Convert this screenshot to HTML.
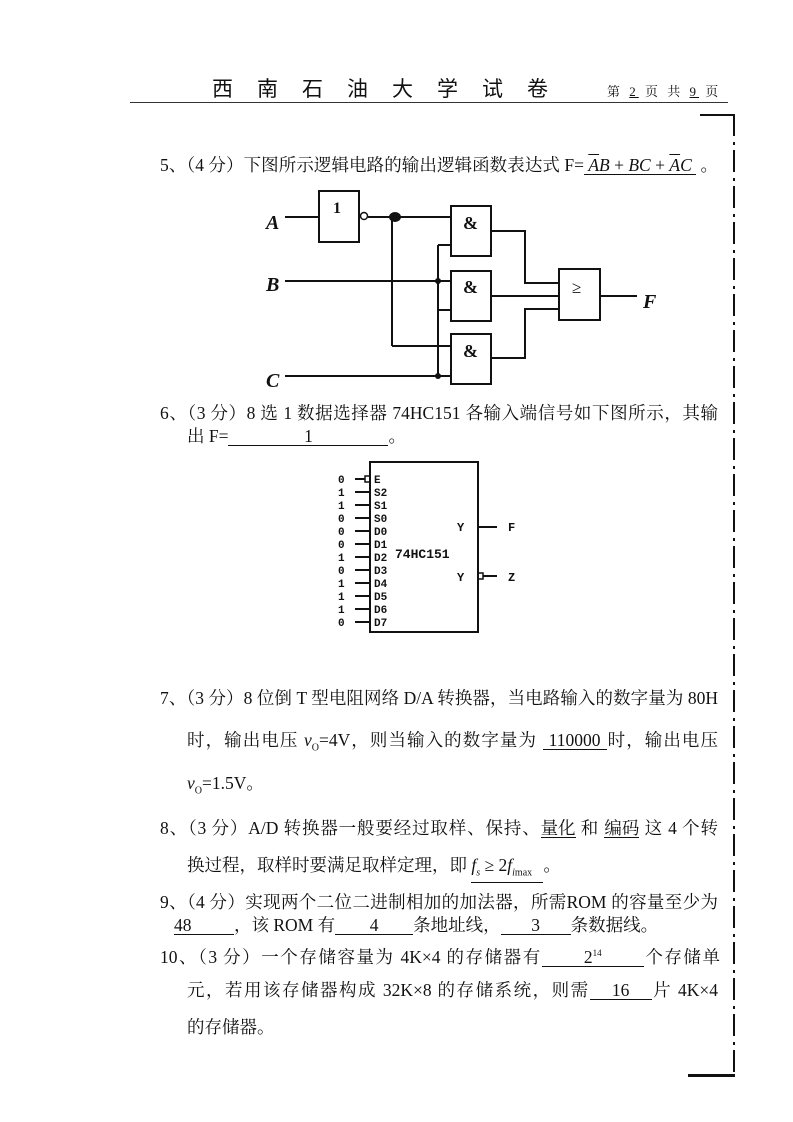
<!DOCTYPE html>
<html><head><meta charset="utf-8"><style>
body{margin:0;width:793px;height:1122px;background:#fff;position:relative;overflow:hidden;font-family:"Liberation Serif","Noto Serif CJK SC","Noto Sans CJK SC",serif;color:#111}
.t{position:absolute;font-size:17.5px;line-height:20px;white-space:nowrap}
.j{text-align:justify;text-align-last:justify;white-space:normal}
.u{display:inline-block;border-bottom:1px solid #111;text-align:center;text-align-last:center;line-height:17px}
.ul{text-align:left;text-align-last:left}
i{font-style:italic}
.ov{text-decoration:overline}
</style></head><body>
<div class="t" style="left:212px;top:78px;font-size:21px;letter-spacing:24px;font-family:'Noto Sans CJK SC',sans-serif">西南石油大学试卷</div>
<div class="t" style="left:607px;top:82px;font-size:13px;letter-spacing:3px">第 <u>2</u> 页 共 <u>9</u> 页</div>
<div style="position:absolute;left:130px;top:102px;width:598px;height:1px;background:#333"></div>
<div style="position:absolute;left:700px;top:114px;width:33px;height:2px;background:#111"></div>
<div style="position:absolute;left:733px;top:114px;width:2px;height:962px;background:repeating-linear-gradient(#111 0 22px,#fff 22px 28px,#111 28px 31px,#fff 31px 36px)"></div>
<div style="position:absolute;left:688px;top:1074px;width:47px;height:3px;background:#111"></div>

<div class="t j" style="left:160px;top:155px;width:558px">5、（4 分）下图所示逻辑电路的输出逻辑函数表达式 F=<span class="u" style="width:112px"><i><span class="ov">A</span>B</i> + <i>BC</i> + <i><span class="ov">A</span>C</i></span> 。</div>

<svg style="position:absolute;left:0;top:0" width="793" height="1122">
<g stroke="#111" stroke-width="2" fill="none">
<rect x="319" y="191" width="40" height="51"/>
<circle cx="364" cy="216" r="3.5" stroke-width="1.5"/>
<line x1="285" y1="217" x2="319" y2="217"/>
<line x1="368" y1="217" x2="451" y2="217"/>
<rect x="451" y="206" width="40" height="50"/>
<rect x="451" y="271" width="40" height="50"/>
<rect x="451" y="334" width="40" height="50"/>
<rect x="559" y="269" width="41" height="51"/>
<line x1="438" y1="245" x2="451" y2="245"/>
<line x1="438" y1="245" x2="438" y2="376"/>
<line x1="285" y1="281" x2="451" y2="281"/>
<line x1="438" y1="310" x2="451" y2="310"/>
<line x1="392" y1="217" x2="392" y2="346"/>
<line x1="392" y1="346" x2="451" y2="346"/>
<line x1="285" y1="376" x2="451" y2="376"/>
<polyline points="491,231 525,231 525,283 559,283"/>
<line x1="491" y1="296" x2="559" y2="296"/>
<polyline points="491,358 525,358 525,309 559,309"/>
<line x1="600" y1="296" x2="637" y2="296"/>
</g>
<ellipse cx="395" cy="217" rx="6" ry="5" fill="#111"/>
<circle cx="438" cy="281" r="3" fill="#111"/>
<circle cx="438" cy="376" r="3" fill="#111"/>
<g font-family="Liberation Serif" font-weight="bold" font-size="18" fill="#111">
<text x="333" y="213" font-size="16">1</text>
<text x="463" y="229">&amp;</text><text x="463" y="293">&amp;</text><text x="463" y="357">&amp;</text>
<text x="572" y="293" font-weight="normal" font-size="17">≥</text>
<text x="266" y="229" font-style="italic" font-size="20">A</text>
<text x="266" y="291" font-style="italic" font-size="20">B</text>
<text x="266" y="387" font-style="italic" font-size="20">C</text>
<text x="643" y="308" font-style="italic" font-size="20">F</text>
</g>

<g stroke="#111" stroke-width="2" fill="none">
<rect x="370" y="462" width="108" height="170"/>
<line x1="478" y1="527" x2="497" y2="527"/>
<rect x="478" y="573" width="5" height="6" stroke-width="1.5"/>
<line x1="483" y1="576" x2="497" y2="576"/>
<rect x="365" y="476" width="5" height="6" stroke-width="1.5"/>
<line x1="355" y1="479" x2="365" y2="479"/>
<line x1="355" y1="492" x2="370" y2="492"/><line x1="355" y1="505" x2="370" y2="505"/>
<line x1="355" y1="518" x2="370" y2="518"/><line x1="355" y1="531" x2="370" y2="531"/>
<line x1="355" y1="544" x2="370" y2="544"/><line x1="355" y1="557" x2="370" y2="557"/>
<line x1="355" y1="570" x2="370" y2="570"/><line x1="355" y1="583" x2="370" y2="583"/>
<line x1="355" y1="596" x2="370" y2="596"/><line x1="355" y1="609" x2="370" y2="609"/>
<line x1="355" y1="622" x2="370" y2="622"/>
</g>
<g font-family="Liberation Mono" font-weight="bold" font-size="11" fill="#111">
<text x="338" y="483">0</text><text x="338" y="496">1</text><text x="338" y="509">1</text><text x="338" y="522">0</text>
<text x="338" y="535">0</text><text x="338" y="548">0</text><text x="338" y="561">1</text><text x="338" y="574">0</text>
<text x="338" y="587">1</text><text x="338" y="600">1</text><text x="338" y="613">1</text><text x="338" y="626">0</text>
<text x="374" y="483">E</text><text x="374" y="496">S2</text><text x="374" y="509">S1</text><text x="374" y="522">S0</text>
<text x="374" y="535">D0</text><text x="374" y="548">D1</text><text x="374" y="561">D2</text><text x="374" y="574">D3</text>
<text x="374" y="587">D4</text><text x="374" y="600">D5</text><text x="374" y="613">D6</text><text x="374" y="626">D7</text>
<text x="395" y="558" font-size="13">74HC151</text>
<text x="457" y="531" font-size="12">Y</text><text x="457" y="581" font-size="12">Y</text>
<text x="508" y="531" font-size="12">F</text><text x="508" y="581" font-size="12">Z</text>
</g>
</svg>

<div class="t j" style="left:160px;top:403px;width:558px">6、（3 分）8 选 1 数据选择器 74HC151 各输入端信号如下图所示，其输</div>
<div class="t" style="left:187px;top:426px">出 F=<span class="u" style="width:160px">1</span>。</div>

<div class="t j" style="left:160px;top:688px;width:558px">7、（3 分）8 位倒 T 型电阻网络 D/A 转换器，当电路输入的数字量为 80H</div>
<div class="t j" style="left:187px;top:730px;width:531px">时，输出电压 <i>v</i><sub style="font-size:10px">O</sub>=4V，则当输入的数字量为 <span class="u" style="width:64px">110000</span>时，输出电压</div>
<div class="t" style="left:187px;top:773px"><i>v</i><sub style="font-size:10px">O</sub>=1.5V。</div>

<div class="t j" style="left:160px;top:818px;width:558px">8、（3 分）A/D 转换器一般要经过取样、保持、<span class="u">量化 </span> 和 <span class="u">编码 </span> 这 4 个转</div>
<div class="t" style="left:187px;top:855px">换过程，取样时要满足取样定理，即 <span class="u ul" style="width:72px"><i>f<sub style="font-size:10px">s</sub></i> ≥ 2<i>f<sub style="font-size:10px">i</sub></i><sub style="font-size:10px">max</sub></span>。</div>

<div class="t j" style="left:160px;top:892px;width:558px">9、（4 分）实现两个二位二进制相加的加法器，所需ROM 的容量至少为</div>
<div class="t" style="left:174px;top:915px"><span class="u ul" style="width:60px">48</span>，该 ROM 有<span class="u" style="width:78px">4</span>条地址线，<span class="u" style="width:70px">3</span>条数据线。</div>
<div class="t j" style="left:160px;top:945px;width:560px">10、（3 分）一个存储容量为 4K×4 的存储器有<span class="u" style="width:102px">2<sup style="font-size:9px">14</sup></span>个存储单</div>
<div class="t j" style="left:187px;top:980px;width:531px">元，若用该存储器构成 32K×8 的存储系统，则需<span class="u" style="width:62px">16</span>片 4K×4</div>
<div class="t" style="left:187px;top:1017px">的存储器。</div>
</body></html>
